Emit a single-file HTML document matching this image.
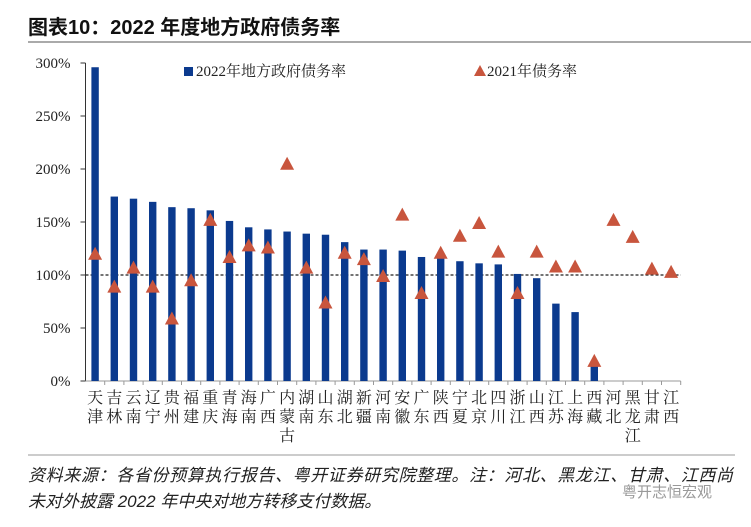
<!DOCTYPE html>
<html><head><meta charset="utf-8"><style>
body{margin:0;background:#fff;width:751px;height:522px;overflow:hidden}
svg text{font-family:"Liberation Serif","Noto Serif CJK SC",serif}
</style></head><body>
<svg width="751" height="522" viewBox="0 0 751 522" xmlns="http://www.w3.org/2000/svg">
<text x="28" y="34" style="font-family:'Liberation Sans','Noto Sans CJK SC',sans-serif;font-weight:bold" font-size="20" fill="#111">图表10：2022 年度地方政府债务率</text>
<line x1="28" y1="42" x2="751" y2="42" stroke="#aaa" stroke-width="2"/>
<g id="chart"></g>
<line x1="28" y1="455" x2="735" y2="455" stroke="#ccc" stroke-width="2"/>
<text x="28" y="481" textLength="705" style="font-family:'Liberation Sans','Noto Sans CJK SC',sans-serif;font-style:italic" font-size="17" fill="#222">资料来源：各省份预算执行报告、粤开证券研究院整理。注：河北、黑龙江、甘肃、江西尚</text>
<text x="28" y="507" style="font-family:'Liberation Sans','Noto Sans CJK SC',sans-serif;font-style:italic" font-size="17" fill="#222">未对外披露 2022 年中央对地方转移支付数据。</text>
<text x="622" y="497" style="font-family:'Liberation Sans','Noto Sans CJK SC',sans-serif" font-size="15" fill="#999">粤开志恒宏观</text>
</svg>
<script>
const names=["天津","吉林","云南","辽宁","贵州","福建","重庆","青海","海南","广西","内蒙古","湖南","山东","湖北","新疆","河南","安徽","广东","陕西","宁夏","北京","四川","浙江","山西","江苏","上海","西藏","河北","黑龙江","甘肃","江西"];
const bars=[296,174,172,169,164,163,161,151,145,143,141,139,138,131,124,124,123,117,116,113,111,110,101,97,73,65,17,0,0,0,0];
const tri=[120,89,107,89,59,95,152,117,128,126,205,107,74,121,115,99,157,83,121,137,149,122,83,122,108,108,19,152,136,106,103];
const y0=381,k=1.06,x0=85.5,w=19.2;
let s='';
s+=`<line x1="${x0}" y1="63" x2="${x0}" y2="${y0}" stroke="#333" stroke-width="1"/>`;
s+=`<line x1="${x0}" y1="${y0}" x2="${x0+31*w}" y2="${y0}" stroke="#999" stroke-width="1"/>`;
for(let v=0;v<=300;v+=50){const y=y0-v*k;s+=`<line x1="${x0-5}" y1="${y}" x2="${x0}" y2="${y}" stroke="#333"/><text x="${x0-15}" y="${y+5}" font-size="15" text-anchor="end" fill="#222">${v}%</text>`;}
s+=`<line x1="${x0}" y1="${y0-100*k}" x2="${x0+31*w}" y2="${y0-100*k}" stroke="#222" stroke-dasharray="3,2" stroke-width="1.2"/>`;
for(let i=0;i<31;i++){const c=x0+w*(i+0.5);
s+=`<line x1="${x0+w*(i+1)}" y1="${y0}" x2="${x0+w*(i+1)}" y2="${y0+4}" stroke="#999"/>`;
if(bars[i])s+=`<rect x="${c-3.7}" y="${y0-bars[i]*k}" width="7.4" height="${bars[i]*k}" fill="#0b3a8e"/>`;
const ty=y0-tri[i]*k;s+=`<polygon points="${c-7},${ty+6} ${c+7},${ty+6} ${c},${ty-7}" fill="#c8553d"/>`;
[...names[i]].forEach((ch,j)=>{s+=`<text x="${c}" y="${y0+22+j*19}" font-size="16" text-anchor="middle" fill="#222">${ch}</text>`;});}
s+=`<rect x="184" y="67" width="9" height="9" fill="#0b3a8e"/><text x="196" y="76" font-size="15" fill="#222">2022年地方政府债务率</text>`;
s+=`<polygon points="474,76 486,76 480,65" fill="#c8553d"/><text x="487" y="76" font-size="15" fill="#222">2021年债务率</text>`;
document.getElementById('chart').innerHTML=s;
</script>
</body></html>
